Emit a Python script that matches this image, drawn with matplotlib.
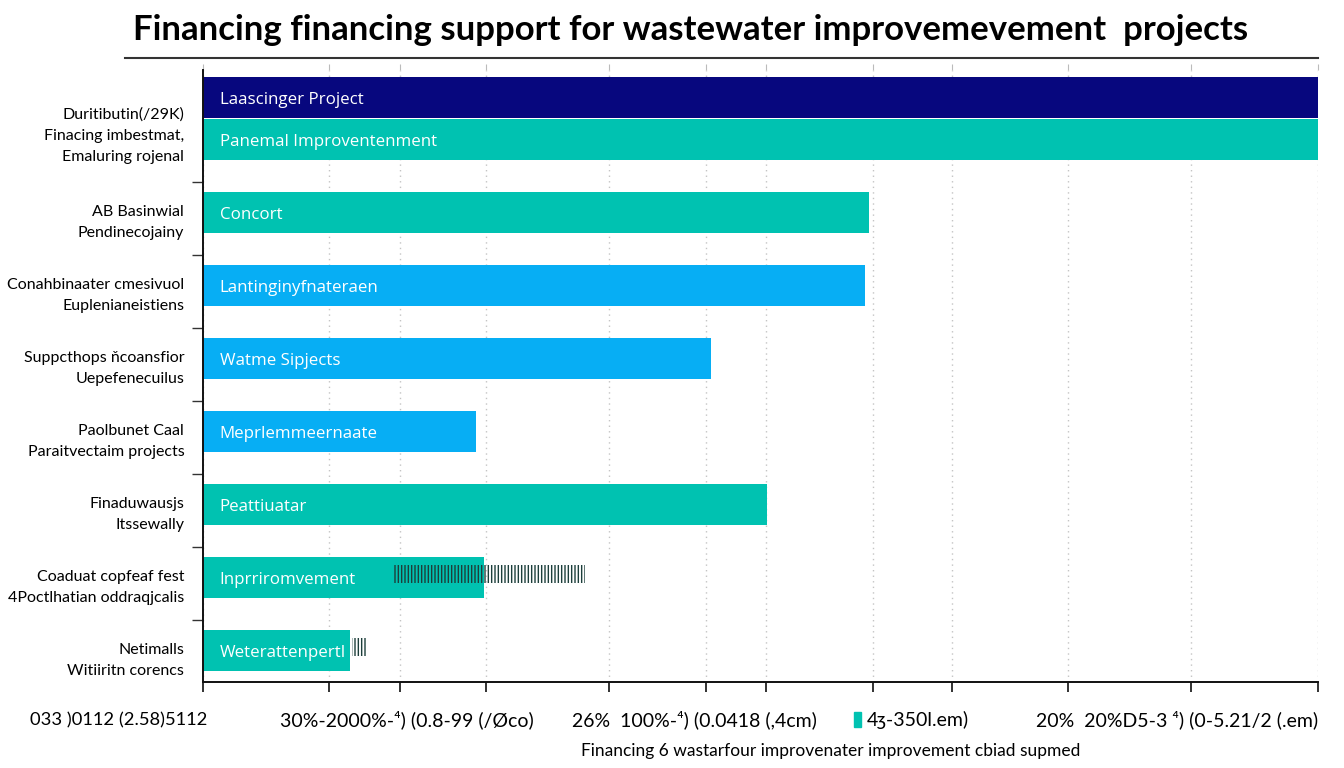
import matplotlib
matplotlib.use('Agg')
import matplotlib.pyplot as plt
from matplotlib.patches import Rectangle
from matplotlib.lines import Line2D

narrow = ['Lato', 'Liberation Sans', 'DejaVu Sans']
plt.rcParams['font.family'] = narrow

# chart text
title = 'Financing financing support for wastewater improvemevement  projects'
xlabel = 'Financing 6 wastarfour improvenater improvement cbiad supmed'

group_labels = ['Duritibutin(/29K)\nFinacing imbestmat,\nEmaluring rojenal',
                'AB Basinwial\nPendinecojainy',
                'Conahbinaater cmesivuol\nEuplenianeistiens',
                'Suppcthops ňcoansfior\nUepefenecuilus',
                'Paolbunet Caal\nParaitvectaim projects',
                'Finaduwausjs\nItssewally',
                'Coaduat copfeaf fest\n4Poctlhatian oddraqjcalis',
                'Netimalls\nWitiiritn corencs']

# bars (group index, name, value, colour key)
bar_group = [0, 0, 1, 2, 3, 4, 5, 6, 7]
bar_names = ['Laascinger Project', 'Panemal Improventenment', 'Concort',
             'Lantinginyfnateraen', 'Watme Sipjects', 'Meprlemmeernaate',
             'Peattiuatar', 'Inprriromvement', 'Weterattenpertl']
bar_values = [100, 100, 59.7, 59.4, 45.6, 24.5, 50.6, 25.2, 13.2]
bar_kind = ['navy', 'teal', 'teal', 'blue', 'blue', 'blue', 'teal', 'teal', 'teal']

x_ticks = [0, 11.3, 17.7, 25.4, 36.4, 45.1, 50.5, 60.1, 67.2, 77.6, 88.6, 100]
x_texts = ['033 )0112 (2.58)5112', '30%-2000%-⁴) (0.8-99 (/Øco)',
           '26%  100%-⁴) (0.0418 (,4cm)', '4ʒ-350l.em)',
           '20%  20%D5-3 ⁴) (0-5.21/2 (.em)']
x_text_at = [-7.6, 18.3, 44.1, 59.5, 100]

# scribbled hatch marks: (start, end, group)
scribbles = [(17.0, 34.3, 6), (13.4, 14.6, 7)]

colors = {'navy': '#07077e', 'teal': '#00c2b1', 'blue': '#07aef4'}

fig = plt.figure(figsize=(13.44, 7.68), dpi=100)
ax = fig.add_axes([203/1344, 86/768, 1115/1344, 612/768])

ypos = []
for g, k in zip(bar_group, bar_kind):
    if k == 'navy':
        ypos.append(g - 0.575)
    else:
        ypos.append(g)

ax.barh(ypos, bar_values, height=0.56, color=[colors[k] for k in bar_kind])
for y, name in zip(ypos, bar_names):
    ax.text(1.5, y + 0.03, name, color='white', va='center', ha='left',
            fontsize=12.2, family=['Open Sans', 'DejaVu Sans'])

for x0, x1, g in scribbles:
    ax.add_patch(Rectangle((x0, g - 0.17), x1 - x0, 0.25, fill=False,
                           hatch='|||||', edgecolor='#1d3f3b', lw=0))

ax.set_xlim(0, 100)
ax.set_ylim(7.43, -0.95)

ax.set_yticks([i + 0.07 if i else -0.12 for i in range(len(group_labels))])
ax.set_yticklabels(group_labels, fontsize=11.5, linespacing=1.65)
ax.set_yticks([i + 0.58 for i in range(len(group_labels) - 1)], minor=True)
ax.tick_params(axis='y', which='major', length=0, pad=13.5)
ax.tick_params(axis='y', which='minor', length=8, width=1, color='#333333')

ax.set_xticks(x_ticks)
ax.set_xticklabels([])
ax.tick_params(axis='x', length=7, width=1.3, color='#222222')
top = ax.secondary_xaxis('top')
top.set_xticks(x_ticks)
top.set_xticklabels([])
top.tick_params(length=4, width=0.8, color='#bbbbbb')
top.spines['top'].set_visible(False)

ax.grid(axis='x', linestyle=(0, (1, 3)), color='#c4c4c4', lw=1)
ax.set_axisbelow(True)
for s in ['top', 'right']:
    ax.spines[s].set_visible(False)
for s in ['left', 'bottom']:
    ax.spines[s].set_linewidth(1.4)
    ax.spines[s].set_color('#111111')

tr = ax.get_xaxis_transform()
for i, (t, x) in enumerate(zip(x_texts, x_text_at)):
    ha = 'right' if x >= 100 else ('left' if i == 3 else 'center')
    size = 13.2 if i == 0 else 14
    ax.text(x, -0.062, t, transform=tr, ha=ha, va='center', fontsize=size,
            family=narrow, clip_on=False)
ax.add_patch(Rectangle((58.4, -0.074), 0.63, 0.0245, transform=tr,
                       clip_on=False, color=colors['teal']))

ax.text(0.563, -0.113, xlabel, transform=ax.transAxes, ha='center', va='center',
        fontsize=12.5)

fig.text(0.514, 0.961, title, ha='center', va='center', fontsize=25,
         fontweight='bold')
fig.add_artist(Line2D([125/1344, 1318/1344], [1 - 58/768] * 2, color='#333333', lw=1.5))

fig.savefig('out.png', dpi=100)
